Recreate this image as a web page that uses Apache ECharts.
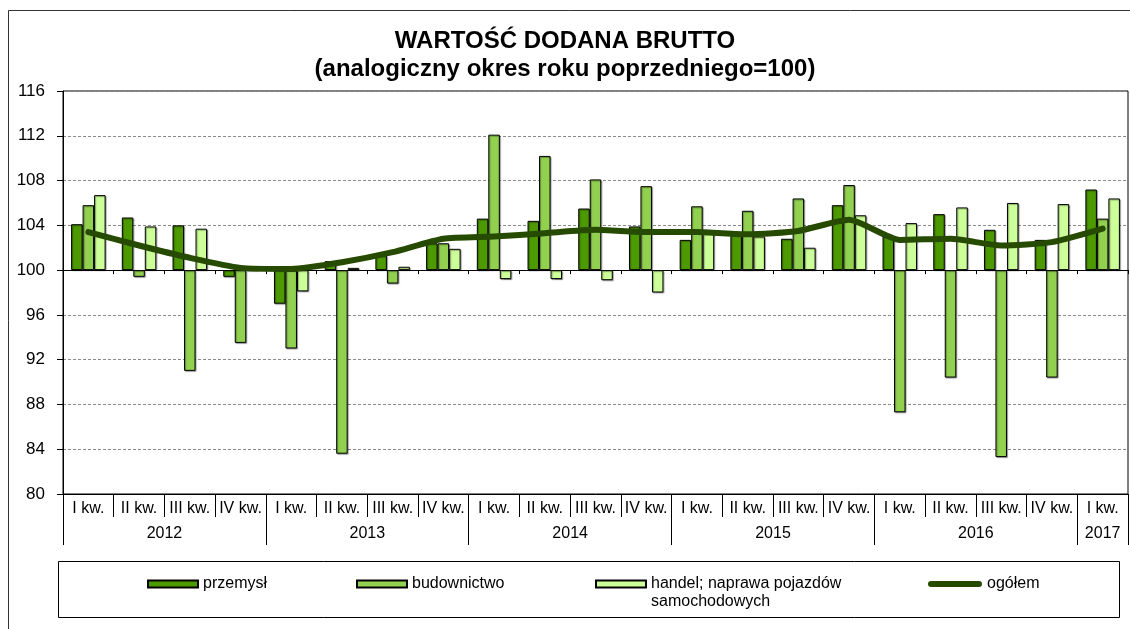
<!DOCTYPE html>
<html lang="pl">
<head>
<meta charset="utf-8">
<title>Wartość dodana brutto</title>
<script src="https://cdn.jsdelivr.net/npm/echarts@6/dist/echarts.min.js"></script>
<style>
  html, body { margin: 0; padding: 0; background: #fff; }
  #chart { width: 1130px; height: 629px; }
</style>
</head>
<body>
<div id="chart"></div>
<script>
// Kwartały (oś kategorii) i lata (dolny wiersz opisu osi)
const categories = [
  'I kw.', 'II kw.', 'III kw.', 'IV kw.',
  'I kw.', 'II kw.', 'III kw.', 'IV kw.',
  'I kw.', 'II kw.', 'III kw.', 'IV kw.',
  'I kw.', 'II kw.', 'III kw.', 'IV kw.',
  'I kw.', 'II kw.', 'III kw.', 'IV kw.',
  'I kw.'
];
const years = ['2012', '2013', '2014', '2015', '2016', '2017'];
const yearQuarters = [4, 4, 4, 4, 4, 1];

// Dynamika (analogiczny okres roku poprzedniego = 100)
const przemysl = [104.1, 104.7, 104.0, 99.4, 97.0, 100.8, 101.3, 102.4, 104.6, 104.4, 105.5,
                  103.9, 102.7, 103.2, 102.8, 105.8, 103.0, 105.0, 103.6, 102.7, 107.2];
const budownictwo = [105.8, 99.4, 91.0, 93.5, 93.0, 83.6, 98.8, 102.4, 112.1, 110.2, 108.1,
                     107.5, 105.7, 105.3, 106.4, 107.6, 87.3, 90.4, 83.3, 90.4, 104.6];
const handel = [106.7, 103.9, 103.7, 100.0, 98.1, 100.2, 100.3, 101.9, 99.2, 99.2, 99.1,
                98.0, 103.3, 103.0, 102.0, 104.9, 104.2, 105.6, 106.0, 105.9, 106.4];
const ogolem = [103.4, 102.2, 101.1, 100.2, 100.1, 100.7, 101.6, 102.8, 103.0, 103.3, 103.6,
                103.4, 103.4, 103.2, 103.5, 104.5, 102.7, 102.8, 102.2, 102.5, 103.7];

// Oś wartości: 80–116 co 4, słupki wychodzą od poziomu 100
const yTicks = { min: 80, max: 116, step: 4 };
const BASE = 100;

const FONT = 'Liberation Sans, Arial, sans-serif';
const COLORS = {
  przemysl: '#4C9900',
  budownictwo: '#92D050',
  handel: '#CCFF99',
  ogolem: '#254A00'
};

const rel = arr => arr.map(v => +(v - BASE).toFixed(2));

// granice i środki lat na skali kwartałów
const yearBounds = [0];
const yearCenters = [];
yearQuarters.forEach(n => {
  const start = yearBounds[yearBounds.length - 1];
  yearCenters.push(start + n / 2);
  yearBounds.push(start + n);
});

const barStyle = color => ({
  color: color,
  borderColor: '#000',
  borderWidth: 1,
  shadowColor: 'rgba(0,0,0,0.35)',
  shadowOffsetX: 1,
  shadowOffsetY: 1,
  shadowBlur: 1
});

const legendBase = {
  orient: 'horizontal',
  padding: 0,
  itemGap: 0,
  itemWidth: 50,
  itemHeight: 7,
  selectedMode: false,
  icon: 'rect',
  textStyle: { fontFamily: FONT, fontSize: 16, color: '#000', lineHeight: 18 }
};

const chart = echarts.init(document.getElementById('chart'), null, { renderer: 'canvas' });

chart.setOption({
  animation: false,
  backgroundColor: '#fff',
  title: {
    text: 'WARTOŚĆ DODANA BRUTTO\n(analogiczny okres roku poprzedniego=100)',
    left: 'center',
    top: 22,
    textStyle: {
      fontFamily: FONT,
      fontSize: 24,
      fontWeight: 'bold',
      color: '#000',
      lineHeight: 28
    }
  },
  graphic: [
    {
      type: 'rect',
      shape: { x: 8.5, y: 10.5, width: 1140, height: 640 },
      style: { fill: 'none', stroke: '#333', lineWidth: 1 },
      silent: true,
      z: -1
    },
    {
      type: 'rect',
      shape: { x: 58.5, y: 561.5, width: 1061, height: 56 },
      style: { fill: 'none', stroke: '#000', lineWidth: 1 },
      silent: true
    }
  ],
  legend: [
    Object.assign({}, legendBase, { data: ['przemysł'], left: 147, top: 575 }),
    Object.assign({}, legendBase, { data: ['budownictwo'], left: 356, top: 575 }),
    Object.assign({}, legendBase, {
      data: ['handel; naprawa pojazdów samochodowych'],
      left: 595,
      top: 557,
      // pusta pierwsza linia: ikona wyrównana z pierwszym wierszem opisu
      formatter: name => '\n' + name.replace(' samochodowych', '\nsamochodowych')
    }),
    Object.assign({}, legendBase, {
      data: [{
        name: 'ogółem',
        icon: 'path://M3,0 L51,0 A3,3 0 0 1 51,6 L3,6 A3,3 0 0 1 3,0 Z'
      }],
      itemWidth: 54,
      itemHeight: 6,
      left: 928,
      top: 575
    })
  ],
  grid: {
    left: 63,
    right: 2,
    top: 91,
    bottom: 135,
    show: true,
    borderColor: '#000',
    borderWidth: 1,
    backgroundColor: 'transparent'
  },
  xAxis: [
    {
      // oś na poziomie 100
      type: 'category',
      data: categories,
      position: 'bottom',
      axisLine: { onZero: true, lineStyle: { color: '#000', width: 1 } },
      axisTick: { show: true, interval: 0, length: 4, lineStyle: { color: '#000' } },
      axisLabel: { show: false },
      splitLine: { show: false }
    },
    {
      // opisy kwartałów
      type: 'category',
      data: categories,
      position: 'bottom',
      axisLine: { onZero: false, lineStyle: { color: '#000', width: 1 } },
      axisTick: { show: true, interval: 0, length: 23, lineStyle: { color: '#000' } },
      axisLabel: {
        interval: 0,
        margin: 7,
        fontFamily: FONT,
        fontSize: 16,
        color: '#000'
      },
      splitLine: { show: false }
    },
    {
      // opisy lat
      type: 'value',
      min: 0,
      max: categories.length,
      position: 'bottom',
      axisLine: { show: false, onZero: false },
      axisTick: {
        show: true,
        customValues: yearBounds,
        length: 51,
        lineStyle: { color: '#000' }
      },
      axisLabel: {
        customValues: yearCenters,
        margin: 32,
        fontFamily: FONT,
        fontSize: 16,
        color: '#000',
        formatter: v => {
          const i = yearCenters.indexOf(v);
          return i >= 0 ? years[i] : '';
        }
      },
      splitLine: { show: false }
    }
  ],
  yAxis: {
    type: 'value',
    min: yTicks.min - BASE,
    max: yTicks.max - BASE,
    interval: yTicks.step,
    axisLine: { show: true, lineStyle: { color: '#000', width: 1 } },
    axisTick: { show: true, length: 6, lineStyle: { color: '#000' } },
    axisLabel: {
      formatter: v => String(v + BASE),
      margin: 18,
      fontFamily: FONT,
      fontSize: 17,
      color: '#000'
    },
    splitLine: {
      show: true,
      lineStyle: { color: '#8a8a8a', type: [3, 2], width: 1 }
    }
  },
  series: [
    {
      name: 'przemysł',
      type: 'bar',
      xAxisIndex: 0,
      data: rel(przemysl),
      barWidth: 11.5,
      barGap: '0%',
      itemStyle: barStyle(COLORS.przemysl)
    },
    {
      name: 'budownictwo',
      type: 'bar',
      xAxisIndex: 0,
      data: rel(budownictwo),
      barWidth: 11.5,
      barGap: '0%',
      itemStyle: barStyle(COLORS.budownictwo)
    },
    {
      name: 'handel; naprawa pojazdów samochodowych',
      type: 'bar',
      xAxisIndex: 0,
      data: rel(handel),
      barWidth: 11.5,
      barGap: '0%',
      itemStyle: barStyle(COLORS.handel)
    },
    {
      name: 'ogółem',
      type: 'line',
      xAxisIndex: 0,
      data: rel(ogolem),
      symbol: 'none',
      smooth: 0.2,
      color: COLORS.ogolem,
      itemStyle: { color: COLORS.ogolem },
      lineStyle: { color: COLORS.ogolem, width: 6, cap: 'round', join: 'round' },
      z: 5
    }
  ]
});
</script>
</body>
</html>
